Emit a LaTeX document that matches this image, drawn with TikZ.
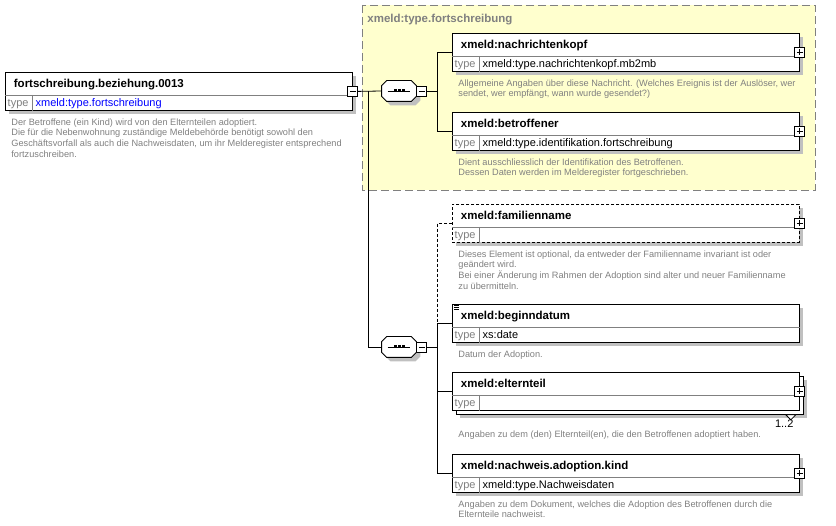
\documentclass[tikz,border=0pt]{standalone}
\usepackage{fontspec}
\setmainfont{Liberation Sans}
\usetikzlibrary{shadows}
\definecolor{shadowgray}{RGB}{192,192,192}
\definecolor{descgray}{RGB}{128,128,128}
\definecolor{groupfill}{RGB}{255,255,206}

\tikzset{
  elem/.style={draw, fill=white, minimum width=347pt, minimum height=38pt, inner sep=0, anchor=north west},
  boxshadow/.style={drop shadow={shadow xshift=4pt, shadow yshift=-4pt, fill=shadowgray, opacity=1}},
  optline/.style={dash pattern=on 3pt off 2pt},
  sepline/.style={draw=gray},
  ttl/.style={anchor=base west, inner sep=0, font=\fontsize{11.5}{13}\selectfont\bfseries},
  typelbl/.style={anchor=base west, inner sep=0, text=gray, font=\fontsize{11}{13}\selectfont},
  typeval/.style={anchor=base west, inner sep=0, font=\fontsize{11}{13}\selectfont},
  % base anchor of a multi-line node sits on its last line
  desc/.style={anchor=base west, inner sep=0, align=left, text=descgray, font=\fontsize{9.2}{10.6}\selectfont},
  grouplbl/.style={anchor=base west, inner sep=0, text=descgray, font=\fontsize{11.5}{13}\selectfont\bfseries},
  pmbox/.style={draw, fill=white, minimum size=10pt, inner sep=0},
  pmminus/.style={pmbox, path picture={
      \draw ([xshift=2pt]path picture bounding box.west) -- ([xshift=-2pt]path picture bounding box.east);}},
  pmplus/.style={pmbox, path picture={
      \draw ([xshift=2pt]path picture bounding box.west) -- ([xshift=-2pt]path picture bounding box.east);
      \draw ([yshift=-2pt]path picture bounding box.north) -- ([yshift=2pt]path picture bounding box.south);}},
  seqbox/.style={minimum width=34pt, minimum height=20pt, inner sep=0}
}

% element box: [options] name, top left corner, title, type
\newcommand{\elembox}[5][boxshadow]{
  \node[elem,#1] (#2) at (#3) {};
  \draw[sepline] ([yshift=-23pt]#2.north west) -- ([yshift=-23pt]#2.north east);
  \draw[sepline] ([shift={(27pt,-23pt)}]#2.north west) -- ([xshift=27pt]#2.south west);
  \node[ttl] at ([shift={(8.5pt,-15.5pt)}]#2.north west) {#4};
  \node[typelbl] at ([shift={(2.3pt,-34.5pt)}]#2.north west) {type};
  \node[typeval] at ([shift={(30.3pt,-34.5pt)}]#2.north west) {#5};
}

% sequence compositor: name, centre
\newcommand{\seqnode}[2]{
  \node[seqbox] (#1) at (#2) {};
  \draw[boxshadow, fill=white] ([xshift=5pt]#1.north west) -- ([xshift=-5pt]#1.north east)
    -- ([yshift=-5pt]#1.north east) -- ([yshift=5pt]#1.south east) -- ([xshift=-5pt]#1.south east)
    -- ([xshift=5pt]#1.south west) -- ([yshift=5pt]#1.south west) -- ([yshift=-5pt]#1.north west) -- cycle;
  \draw ([xshift=6pt]#1.west) -- ([xshift=-6pt]#1.east);
  \foreach \dx in {-4,0,4}
    \fill ([xshift=\dx pt]#1.center) +(-1.5,-1.5) rectangle +(1.5,1.5);
}

\begin{document}
\begin{tikzpicture}[x=1pt, y=-1pt, line width=0.8pt]
  \useasboundingbox (0,0) rectangle (836,526);

  % complex type group
  \draw[draw=gray, fill=groupfill, dash pattern=on 8pt off 4pt] (362,5) rectangle (815,190);
  \node[grouplbl] (grp) at (367,22.5) {xmeld:type.fortschreibung};

  % root element
  \elembox{main}{5,72}{fortschreibung.beziehung.0013}{\textcolor{blue}{xmeld:type.fortschreibung}}
  \node[pmminus] (mainm) at (main.east) {};
  \node[desc] at ([shift={(6pt,-46.3pt)}]main.south west) {Der Betroffene (ein Kind) wird von den Elternteilen adoptiert.\\
    Die für die Nebenwohnung zuständige Meldebehörde benötigt sowohl den\\
    Geschäftsvorfall als auch die Nachweisdaten, um ihr Melderegister entsprechend\\
    fortzuschreiben.};

  % sequences
  \seqnode{seqA}{399,91}
  \node[pmminus, anchor=west] (seqAm) at (seqA.east) {};
  \seqnode{seqB}{399,347}
  \node[pmminus, anchor=west] (seqBm) at (seqB.east) {};
  \coordinate (split) at ([xshift=10pt]mainm.east);
  \coordinate (busA) at ([xshift=10pt]seqAm.east);
  \coordinate (busB) at ([xshift=10pt]seqBm.east);

  % first sequence
  \elembox{kopf}{452,33}{xmeld:nachrichtenkopf}{xmeld:type.nachrichtenkopf.mb2mb}
  \node[pmplus] at (kopf.east) {};
  \node[desc] at ([shift={(6pt,-25.1pt)}]kopf.south west) {Allgemeine Angaben über diese Nachricht. (Welches Ereignis ist der Auslöser, wer\\
    sendet, wer empfängt, wann wurde gesendet?)};

  \elembox{betr}{452,112}{xmeld:betroffener}{xmeld:type.identifikation.fortschreibung}
  \node[pmplus] at (betr.east) {};
  \node[desc] at ([shift={(6pt,-25.1pt)}]betr.south west) {Dient ausschliesslich der Identifikation des Betroffenen.\\
    Dessen Daten werden im Melderegister fortgeschrieben.};

  % second sequence
  \elembox[boxshadow, optline]{fam}{452,204}{xmeld:familienname}{}
  \node[pmplus] at (fam.east) {};
  \node[desc] at ([shift={(6pt,-46.3pt)}]fam.south west) {Dieses Element ist optional, da entweder der Familienname invariant ist oder\\
    geändert wird.\\
    Bei einer Änderung im Rahmen der Adoption sind alter und neuer Familienname\\
    zu übermitteln.};

  \elembox{begin}{452,304}{xmeld:beginndatum}{xs:date}
  \foreach \d in {1,3,5}
    \draw[line width=0.6pt] ([shift={(2pt,-\d pt)}]begin.north west) -- ++(5,0);
  \node[desc] at ([shift={(6pt,-14.5pt)}]begin.south west) {Datum der Adoption.};

  \node[elem, boxshadow] (elternbk) at (456,376) {};
  \elembox[]{eltern}{452,372}{xmeld:elternteil}{}
  \node[pmplus] at (eltern.east) {};
  \draw[fill=white] ([xshift=-18pt]elternbk.south east) -- ([xshift=-8pt]elternbk.south east)
    -- ([shift={(-13pt,-5pt)}]elternbk.south east) -- cycle;
  \node[typeval, anchor=base east] at ([shift={(-10pt,-13pt)}]elternbk.south east) {1..2};
  \node[desc] at ([shift={(6pt,-27pt)}]eltern.south west) {Angaben zu dem (den) Elternteil(en), die den Betroffenen adoptiert haben.};

  \elembox{nachw}{452,454}{xmeld:nachweis.adoption.kind}{xmeld:type.Nachweisdaten}
  \node[pmplus] at (nachw.east) {};
  \node[desc] at ([shift={(6pt,-25.1pt)}]nachw.south west) {Angaben zu dem Dokument, welches die Adoption des Betroffenen durch die\\
    Elternteile nachweist.};

  % connectors
  \draw (mainm.east) -- (seqA.west);
  \draw (split) |- (seqB.west);
  \draw (seqAm.east) -- (busA);
  \draw (kopf.west) -| (busA) |- (betr.west);
  \draw (seqBm.east) -- (busB);
  \draw (begin.west) -| (busB) |- (eltern.west);
  \draw (busB) |- (nachw.west);
  \draw[optline] (fam.west) -| (busB |- begin.west);
\end{tikzpicture}
\end{document}
